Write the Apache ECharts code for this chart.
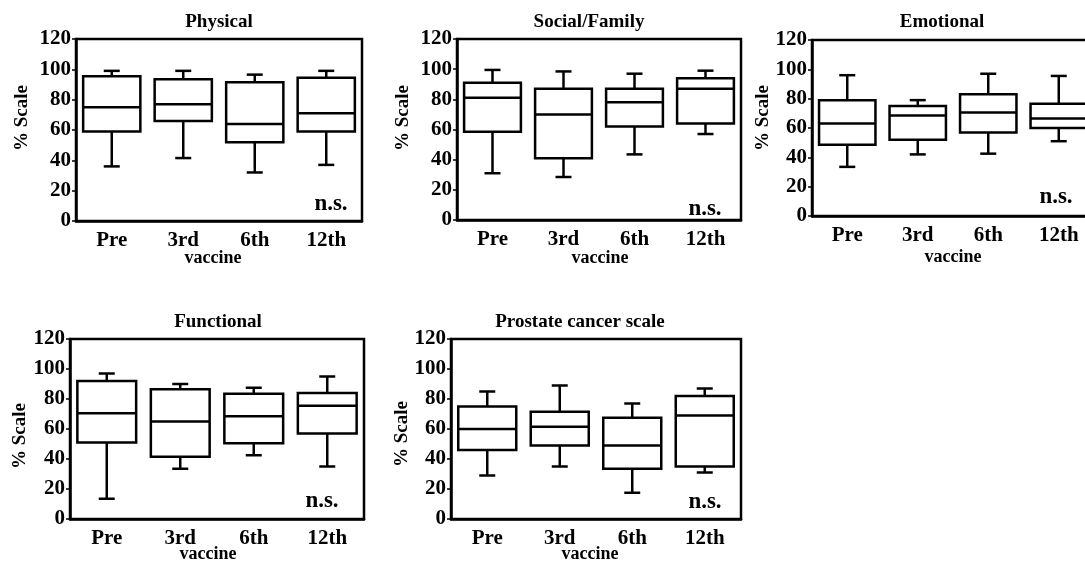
<!DOCTYPE html>
<html>
<head>
  <meta charset="utf-8">
  <title>QOL box plots</title>
  <script src="https://cdn.jsdelivr.net/npm/echarts@6.0.0/dist/echarts.min.js"></script>
  <style>
    html, body { margin: 0; padding: 0; background: #fff; }
    #main { width: 1085px; height: 564px; }
  </style>
</head>
<body>
  <div id="main"></div>
  <script type="text/javascript">
    // x categories
    var categories = ['Pre', '3rd', '6th', '12th'];

    // one row per category: [low whisker, Q1, median, Q3, high whisker]
    var physical = [[36, 59, 75, 95.5, 99], [41.5, 66, 77, 93.5, 99], [32, 52, 64, 91.5, 96.5], [37, 59, 71, 94.5, 99]];
    var social = [[31, 58.5, 81, 91, 99.5], [28.5, 41, 70, 87, 98.5], [43.5, 62, 78, 87, 97], [57, 64, 87, 94, 99]];
    var emotional = [[33.5, 48.5, 63, 79, 96], [42, 52, 68.5, 75, 79], [42.5, 57, 70.5, 83, 97], [51, 60, 66.5, 76.5, 95.5]];
    var functional = [[13.5, 51, 70.5, 92, 97], [33.5, 41.5, 65, 86.5, 90], [42.5, 50.5, 68.5, 83.5, 87.5], [35, 57, 75.5, 84, 95]];
    var prostate = [[29, 46, 60, 75, 85], [35, 49, 61.5, 71.5, 89], [17.5, 33.5, 49, 67.5, 77], [31, 35, 69, 82, 87]];

    var titles = ['Physical', 'Social/Family', 'Emotional', 'Functional', 'Prostate cancer scale'];
    var panels = [physical, social, emotional, functional, prostate];
    var yMin = 0, yMax = 120, yStep = 20;

    // pixel layout of each panel
    var layout = [
      { left: 76, top: 39, width: 286, height: 182, title: [219, 22], yName: [22, 118], xName: [213, 258], ns: [331, 204] },
      { left: 457, top: 39, width: 284, height: 181, title: [589, 22], yName: [403, 118], xName: [600, 258], ns: [705, 209] },
      { left: 812, top: 40, width: 282, height: 176, title: [942, 22], yName: [763, 118], xName: [953, 257], ns: [1056, 197] },
      { left: 70, top: 339, width: 294, height: 180, title: [218, 322], yName: [20, 436], xName: [208, 554], ns: [322, 501] },
      { left: 451, top: 339, width: 290, height: 180, title: [580, 322], yName: [402, 434], xName: [590, 554], ns: [705, 502] }
    ];

    var serif = '"Liberation Serif", "Times New Roman", serif';

    function renderBox(params, api) {
      var i = api.value(0);
      var lo = api.coord([i, api.value(1)]);
      var q1 = api.coord([i, api.value(2)]);
      var md = api.coord([i, api.value(3)]);
      var q3 = api.coord([i, api.value(4)]);
      var hi = api.coord([i, api.value(5)]);
      var band = api.size([1, 0])[0];
      var hw = band * 0.4;
      var cap = 8;
      var cx = lo[0];
      var st = { stroke: '#000', lineWidth: 2.5, fill: null };
      return {
        type: 'group',
        children: [
          { type: 'line', shape: { x1: cx, y1: hi[1], x2: cx, y2: q3[1] }, style: st },
          { type: 'line', shape: { x1: cx, y1: q1[1], x2: cx, y2: lo[1] }, style: st },
          { type: 'line', shape: { x1: cx - cap, y1: hi[1], x2: cx + cap, y2: hi[1] }, style: st },
          { type: 'line', shape: { x1: cx - cap, y1: lo[1], x2: cx + cap, y2: lo[1] }, style: st },
          { type: 'rect', shape: { x: cx - hw, y: q3[1], width: hw * 2, height: q1[1] - q3[1] },
            style: { stroke: '#000', lineWidth: 2.5, fill: '#fff' } },
          { type: 'line', shape: { x1: cx - hw, y1: md[1], x2: cx + hw, y2: md[1] }, style: st }
        ]
      };
    }

    var grids = [], xAxes = [], yAxes = [], series = [], graphics = [];

    panels.forEach(function (rows, k) {
      var L = layout[k];
      grids.push({
        left: L.left, top: L.top, width: L.width, height: L.height,
        outerBoundsMode: 'none', containLabel: false,
        show: true, borderColor: '#000', borderWidth: 2.5, backgroundColor: 'transparent'
      });
      xAxes.push({
        type: 'category', gridIndex: k, data: categories, boundaryGap: true,
        axisLine: { lineStyle: { color: '#000', width: 2.5 } },
        axisTick: { alignWithLabel: true, length: 3, lineStyle: { color: '#000', width: 1.5 } },
        axisLabel: { color: '#000', fontFamily: serif, fontWeight: 'bold', fontSize: 21, margin: 9 },
        splitLine: { show: false }
      });
      yAxes.push({
        type: 'value', gridIndex: k, min: yMin, max: yMax, interval: yStep,
        axisLine: { show: true, lineStyle: { color: '#000', width: 2.5 } },
        axisTick: { show: true, length: 4, lineStyle: { color: '#000', width: 1.5 } },
        axisLabel: { color: '#000', fontFamily: serif, fontWeight: 'bold', fontSize: 21, margin: 5 },
        splitLine: { show: false }
      });
      series.push({
        type: 'custom', xAxisIndex: k, yAxisIndex: k,
        renderItem: renderBox,
        encode: { x: 0, y: [1, 2, 3, 4, 5] },
        data: rows.map(function (r, i) { return [i].concat(r); }),
        silent: true
      });

      graphics.push({
        type: 'text', x: L.title[0], y: L.title[1],
        style: { text: titles[k], font: 'bold 19px ' + serif, fill: '#000',
          textAlign: 'center', textVerticalAlign: 'middle', align: 'center', verticalAlign: 'middle' }
      });
      graphics.push({
        type: 'text', x: L.yName[0], y: L.yName[1], rotation: Math.PI / 2,
        style: { text: '% Scale', font: 'bold 19px ' + serif, fill: '#000',
          textAlign: 'center', textVerticalAlign: 'middle', align: 'center', verticalAlign: 'middle' }
      });
      graphics.push({
        type: 'text', x: L.xName[0], y: L.xName[1],
        style: { text: 'vaccine', font: 'bold 18px ' + serif, fill: '#000',
          textAlign: 'center', textVerticalAlign: 'middle', align: 'center', verticalAlign: 'middle' }
      });
      graphics.push({
        type: 'text', x: L.ns[0], y: L.ns[1],
        style: { text: 'n.s.', font: 'bold 23px ' + serif, fill: '#000',
          textAlign: 'center', textVerticalAlign: 'middle', align: 'center', verticalAlign: 'middle' }
      });
    });

    var myChart = echarts.init(document.getElementById('main'));
    myChart.setOption({
      backgroundColor: '#fff',
      animation: false,
      grid: grids,
      xAxis: xAxes,
      yAxis: yAxes,
      series: series,
      graphic: { elements: graphics }
    });
  </script>
</body>
</html>
